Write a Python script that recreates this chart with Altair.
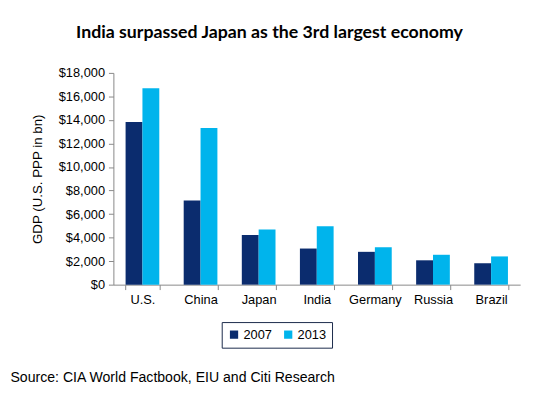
import altair as alt
import pandas as pd

countries = ["U.S.", "China", "Japan", "India", "Germany", "Russia", "Brazil"]
gdp_2007 = [13820, 7150, 4220, 3070, 2790, 2070, 1820]
gdp_2013 = [16690, 13320, 4690, 4970, 3180, 2540, 2400]
years = ["2007", "2013"]

rows = []
for c, a, b in zip(countries, gdp_2007, gdp_2013):
    rows.append({"country": c, "year": "2007", "gdp": a})
    rows.append({"country": c, "year": "2013", "gdp": b})
df = pd.DataFrame(rows)

chart = alt.Chart(df).mark_bar().encode(
    x=alt.X("country:N", sort=countries,
            scale=alt.Scale(paddingInner=0.42, paddingOuter=0.21),
            axis=alt.Axis(title="Source: CIA World Factbook, EIU and Citi Research",
                          labelAngle=0, labelFontSize=13, labelColor="#000",
                          labelFont="Liberation Sans", labelPadding=4,
                          tickBand="extent", tickSize=5, tickColor="#888",
                          domainColor="#888",
                          titleFont="Liberation Sans", titleFontSize=14.3,
                          titleFontWeight="normal", titleColor="#000",
                          titleAnchor="start", titleAlign="left",
                          titleBaseline="alphabetic", titleX=-105, titleY=98)),
    xOffset=alt.XOffset("year:N", sort=years),
    y=alt.Y("gdp:Q", scale=alt.Scale(domain=[0, 18000]),
            axis=alt.Axis(title="GDP (U.S. PPP in bn)", format="$,.0f",
                          values=list(range(0, 18001, 2000)),
                          grid=False, labelFontSize=13, labelColor="#000",
                          labelFont="Liberation Sans", labelPadding=4,
                          tickSize=5, tickColor="#888", domainColor="#888",
                          titleFont="Liberation Sans", titleFontSize=13.5,
                          titleFontWeight="normal", titleColor="#000",
                          titlePadding=14)),
    color=alt.Color("year:N", sort=years,
                    scale=alt.Scale(domain=years, range=["#0B2C6E", "#00B4EC"]),
                    legend=alt.Legend(title=None, orient="none", legendX=110, legendY=253,
                                      direction="horizontal", symbolType="square",
                                      symbolSize=70, symbolStrokeWidth=0,
                                      labelFontSize=13, labelFont="Liberation Sans",
                                      labelColor="#000", columnPadding=10,
                                      strokeColor="#1a2a4a", padding=6,
                                      labelOffset=3)),
).properties(
    width=413, height=215,
    autosize=alt.AutoSizeParams(type="none"),
    padding={"left": 107, "top": 63, "right": 10, "bottom": 100},
    title=alt.TitleParams("India surpassed Japan as the 3rd largest economy",
                          anchor="middle", dx=-48, offset=25,
                          font="Lato", fontSize=18, fontWeight="bold", color="#000"),
).configure_view(stroke=None)

chart.save("out.html", embed_options={"renderer": "svg", "actions": False})
